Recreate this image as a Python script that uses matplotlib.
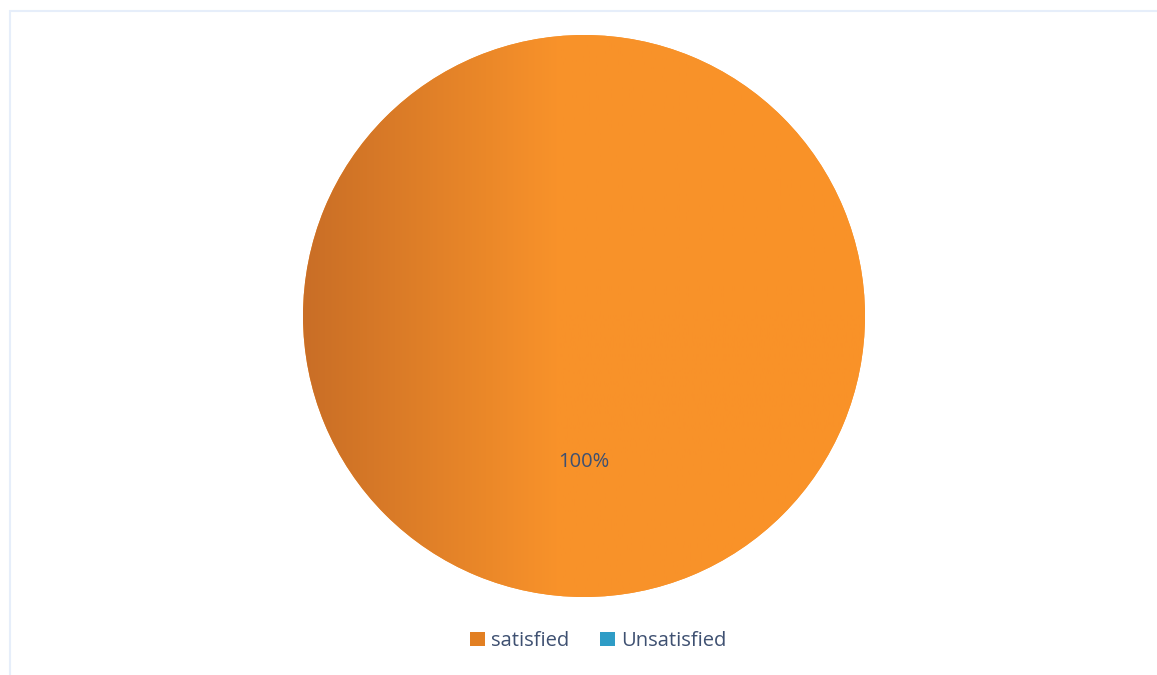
import numpy as np
import matplotlib
matplotlib.use("Agg")
import matplotlib.pyplot as plt
from matplotlib.colors import LinearSegmentedColormap

labels = ["satisfied", "Unsatisfied"]
values = [100, 0]
colors = ["#F7922A", "#2E9CC6"]

W, H = 1157, 675
fig = plt.figure(figsize=(W / 100, H / 100), dpi=100)
ax = fig.add_axes([0, 0, 1, 1])

# pie centre and radius in pixel units
cx, cy, r = 584, H - 316, 281

wedges, texts, autotexts = ax.pie(
    values, colors=colors, startangle=90, counterclock=False,
    center=(cx, cy), radius=r, frame=True,
    autopct=lambda p: f"{p:.0f}%" if p > 0 else "",
    pctdistance=0.52, wedgeprops=dict(linewidth=0),
    textprops=dict(color="#3E5071", fontsize=14.5, family="Open Sans"))
ax.set_xlim(0, W)
ax.set_ylim(0, H)
ax.set_aspect("equal")
ax.axis("off")

# horizontal shading on the main slice: darker on the left, flat on the right
shade = LinearSegmentedColormap.from_list(
    "shade", [(0.0, "#C96E26"), (0.45, "#F8922A"), (1.0, "#FA9228")])
grad = np.linspace(0, 1, 256).reshape(1, -1)
img = ax.imshow(grad, cmap=shade, extent=(cx - r, cx + r, cy - r, cy + r),
                aspect="auto", zorder=wedges[0].get_zorder() + 0.1)
img.set_clip_path(wedges[0])
for t in autotexts:
    t.set_zorder(5)

# thin panel border on the top and left
ax.plot([9.5, 9.5], [0, H - 10], color="#E6EEFA", lw=1.5, solid_capstyle="butt")
ax.plot([9, W], [H - 10.5, H - 10.5], color="#E6EEFA", lw=1.5, solid_capstyle="butt")

leg = ax.legend(wedges, labels, loc="center", ncol=2, frameon=False,
                bbox_to_anchor=(598 / W, 1 - 641 / H), bbox_transform=fig.transFigure,
                handlelength=0.75, handleheight=0.75, handletextpad=0.3,
                columnspacing=1.5, prop=dict(family="Open Sans", size=14.5))
for t in leg.get_texts():
    t.set_color("#3E5071")
leg.legend_handles[0].set_facecolor("#E27F22")

fig.savefig("out.png", dpi=100)
